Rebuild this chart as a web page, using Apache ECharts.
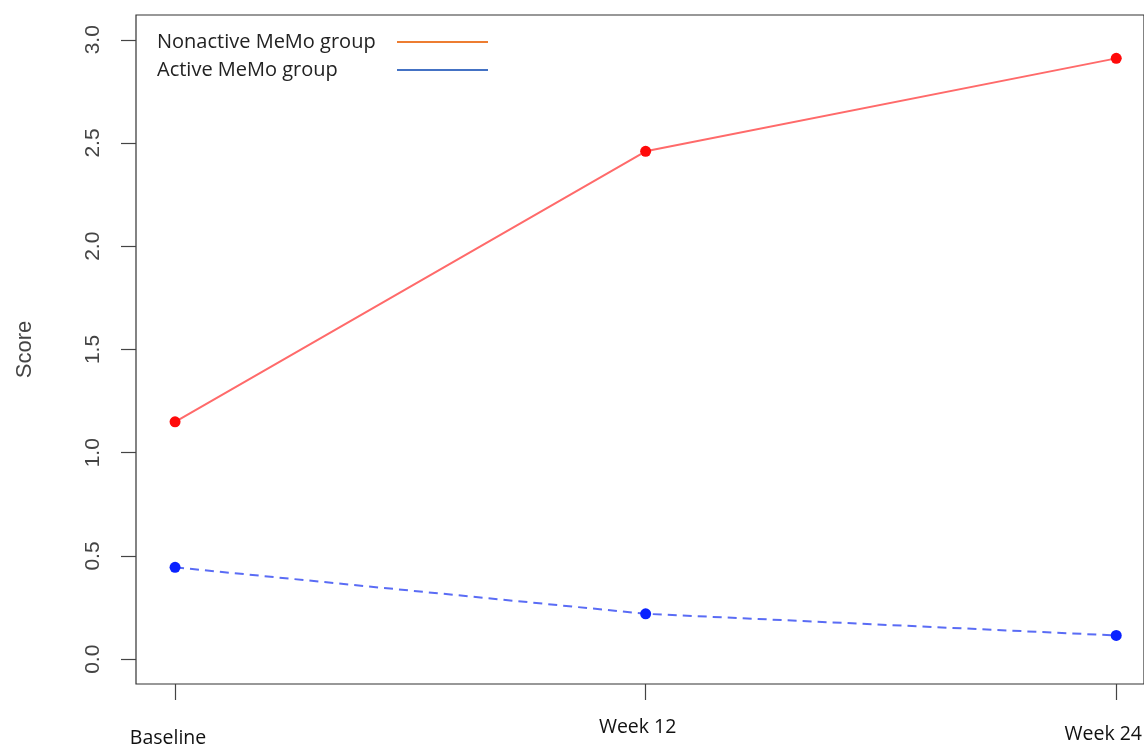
<!DOCTYPE html>
<html><head><meta charset="utf-8">
<script src="https://cdn.jsdelivr.net/npm/echarts@6/dist/echarts.min.js"></script>
<style>html,body{margin:0;padding:0;background:#fff}#c{width:1144px;height:744px}</style>
</head><body><div id="c"></div>
<script>
const categories = ['Baseline', 'Week 12', 'Week 24'];
const nonactive = [1.15, 2.46, 2.91];
const active = [0.445, 0.22, 0.115];
const yTicks = [0, 0.5, 1.0, 1.5, 2.0, 2.5, 3.0];
const seriesNames = ['Nonactive MeMo group', 'Active MeMo group'];

const chart = echarts.init(document.getElementById('c'));
const labFont = '"Open Sans", Lato, sans-serif';
chart.setOption({
  animation: false,
  grid: { left: 136, top: 15, bottom: 60, right: 0, show: true, borderColor: '#333', borderWidth: 1.2, containLabel: false, outerBoundsMode: 'none' },
  legend: {
    orient: 'vertical', left: 157, top: 32, padding: 0, align: 'right',
    itemWidth: 91, itemHeight: 2, itemGap: 8,
    formatter: name => '{n|' + name + '}',
    textStyle: {
      fontFamily: labFont, fontSize: 20, color: '#222', lineHeight: 19,
      rich: { n: { width: 235, align: 'left', fontFamily: labFont, fontSize: 20, color: '#222', lineHeight: 19 } }
    },
    data: [
      { name: seriesNames[0], icon: 'rect', itemStyle: { color: '#ed7d31' } },
      { name: seriesNames[1], icon: 'rect', itemStyle: { color: '#4472c4' } }
    ]
  },
  xAxis: {
    type: 'value', min: -0.083, max: 2.059,
    splitLine: { show: false }, axisLine: { show: false, onZero: false },
    axisTick: { show: true, length: 16, lineStyle: { color: '#444', width: 1.2 }, customValues: [0, 1, 2] },
    axisLabel: {
      customValues: [0, 1, 2], margin: 24,
      formatter: v => { const i = Math.round(v); return ['{a|', '{b|', '{c|'][i] + categories[i] + '}'; },
      rich: {
        a: { fontFamily: labFont, fontSize: 19.5, color: '#111', padding: [20, 14, 0, 0] },
        b: { fontFamily: labFont, fontSize: 19.5, color: '#111', padding: [9, 16, 0, 0] },
        c: { fontFamily: labFont, fontSize: 19.5, color: '#111', padding: [16, 26, 0, 0] }
      }
    }
  },
  yAxis: {
    type: 'value', min: -0.12, max: 3.12,
    name: 'Score', nameLocation: 'middle', nameGap: 100, nameRotate: 90,
    nameTextStyle: { fontFamily: '"Liberation Sans", Arial, sans-serif', fontSize: 22, color: '#444' },
    splitLine: { show: false }, axisLine: { show: false, onZero: false },
    axisTick: { show: true, length: 15, lineStyle: { color: '#444', width: 1.2 }, customValues: yTicks },
    axisLabel: {
      customValues: yTicks, rotate: 90, margin: 32,
      fontFamily: '"Liberation Sans", Arial, sans-serif', fontSize: 21, color: '#444',
      formatter: v => v.toFixed(1)
    }
  },
  series: [
    {
      name: seriesNames[0], type: 'line',
      data: nonactive.map((v, i) => [i, v]),
      symbol: 'circle', symbolSize: 11,
      itemStyle: { color: '#ff0a0a' },
      lineStyle: { color: '#ff6a6a', width: 2 }
    },
    {
      name: seriesNames[1], type: 'line',
      data: active.map((v, i) => [i, v]),
      symbol: 'circle', symbolSize: 11,
      itemStyle: { color: '#0a22ff' },
      lineStyle: { color: '#5a6cf5', width: 2, type: [9, 6] }
    }
  ]
});
</script>
</body></html>
